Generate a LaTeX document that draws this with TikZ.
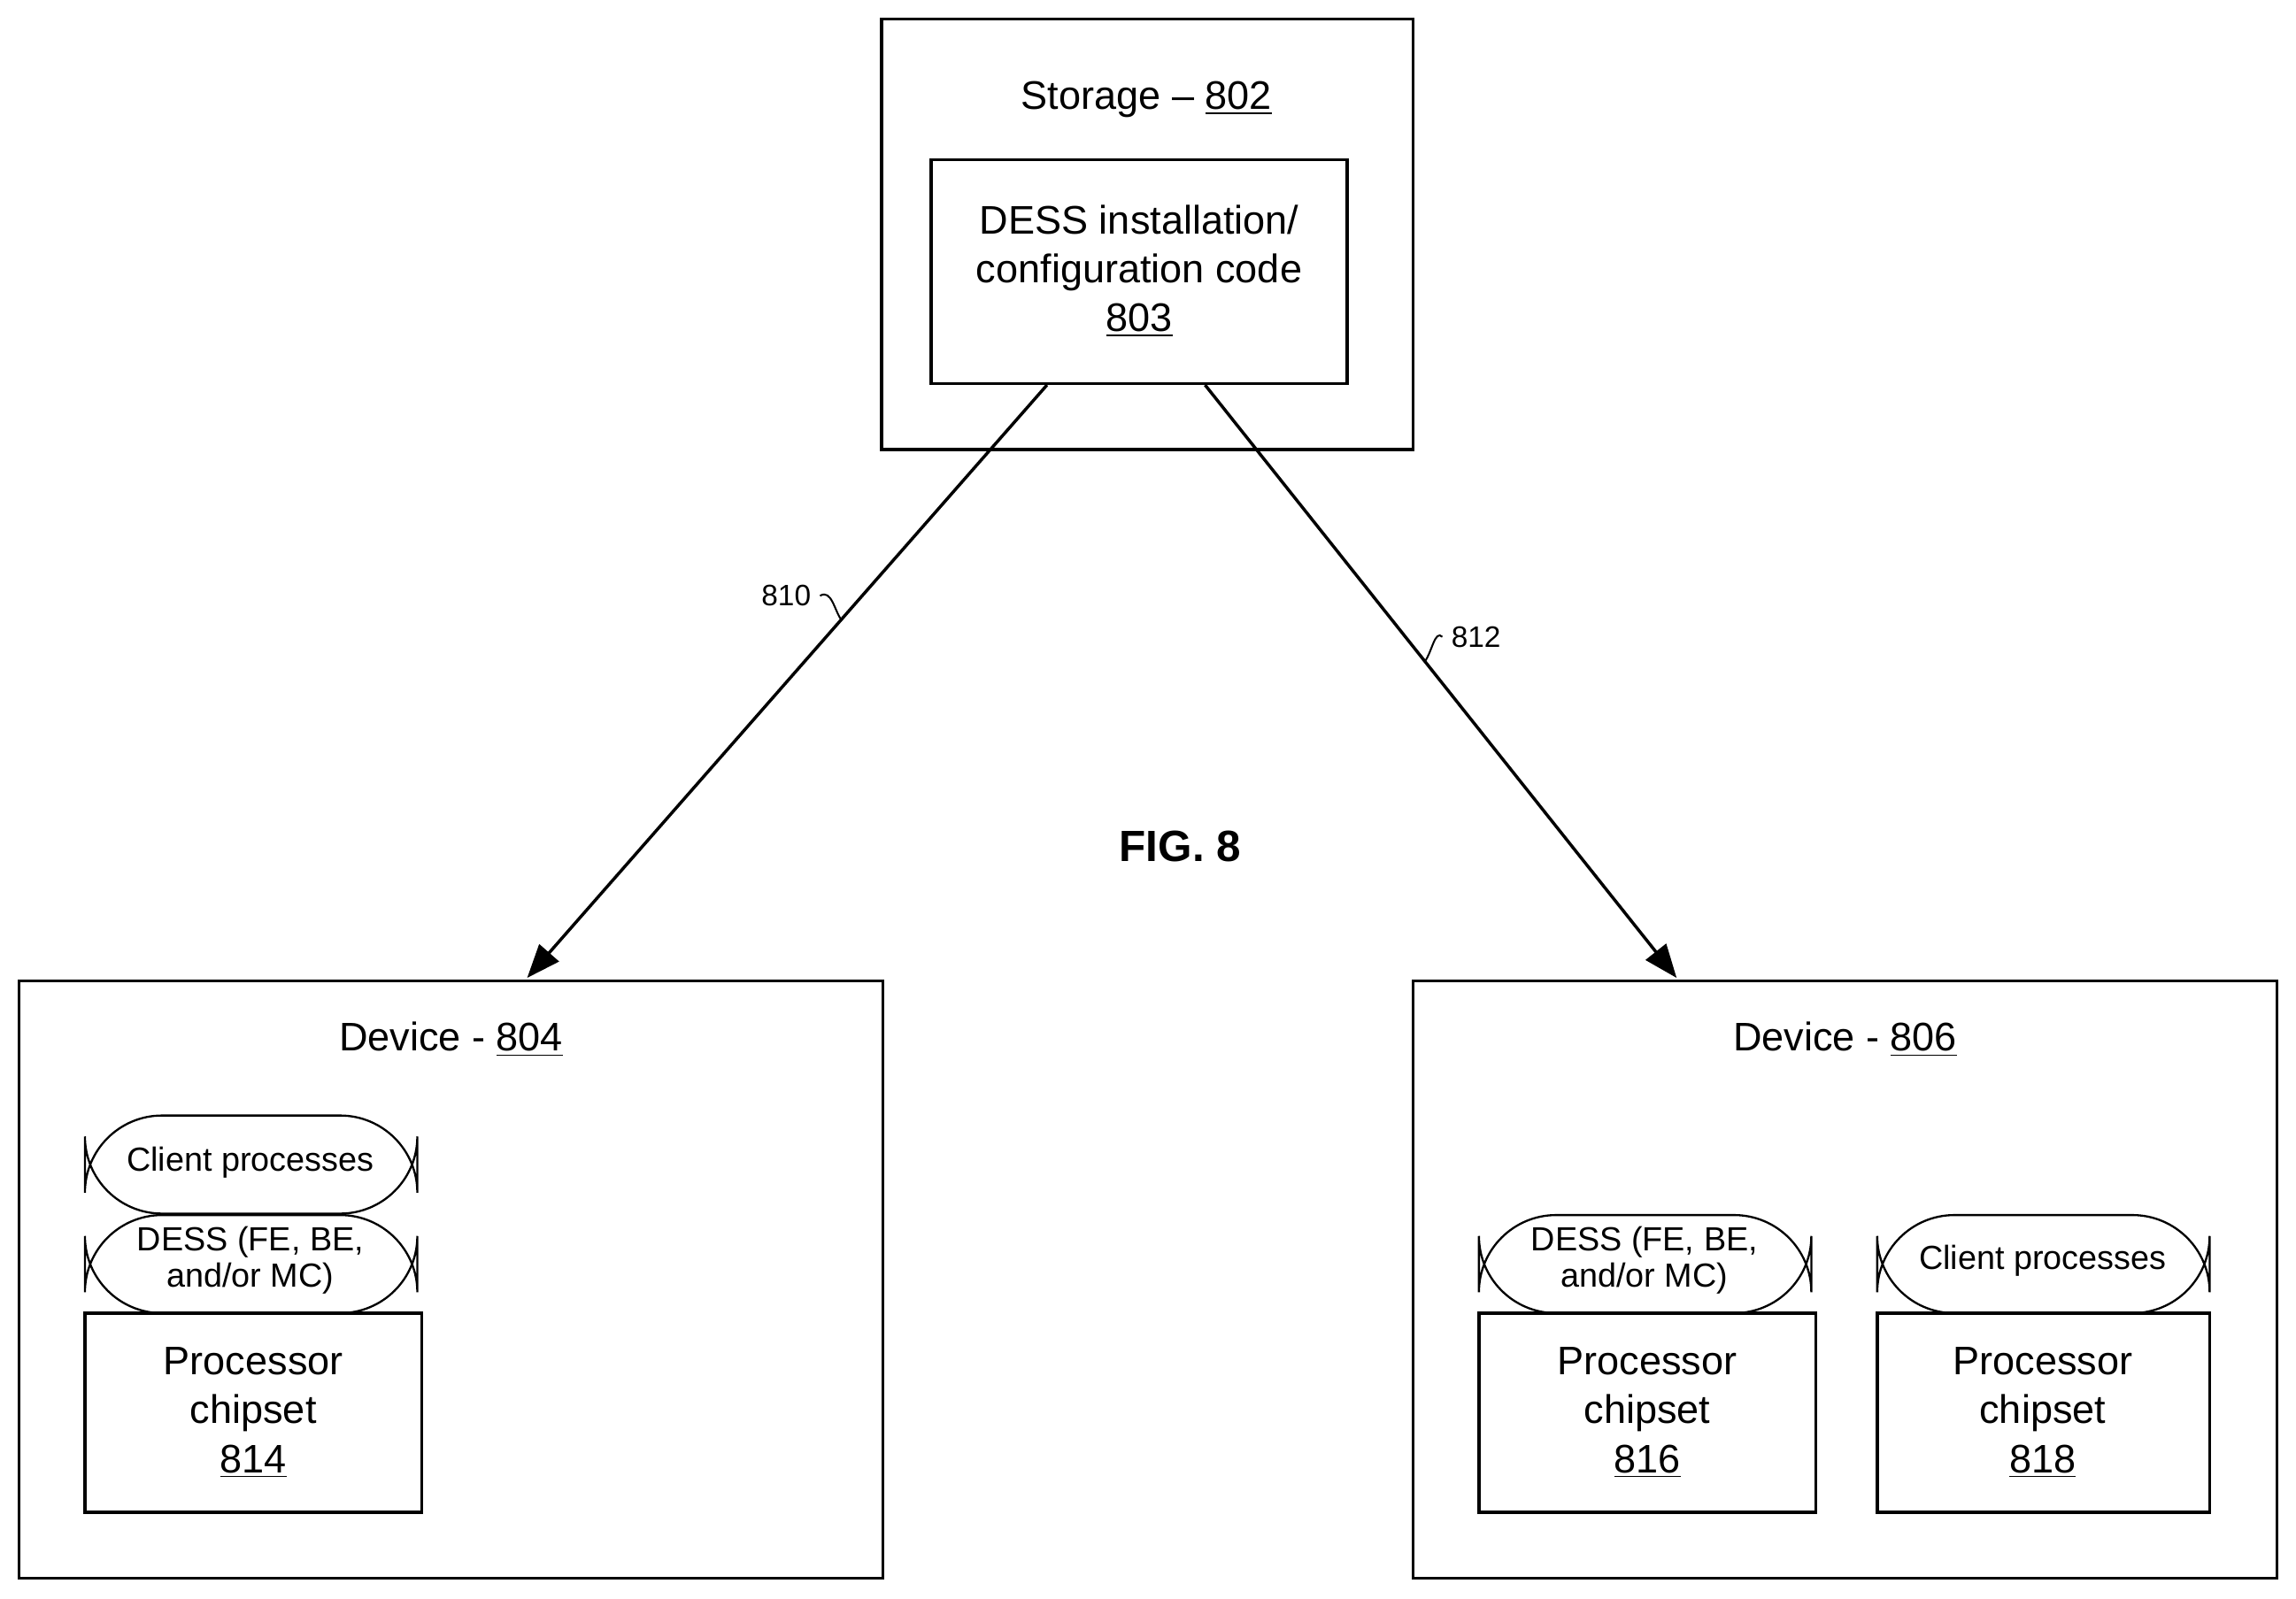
\documentclass[tikz,border=0pt]{standalone}
\usepackage{fontspec}
\setmainfont{Liberation Sans}
\usetikzlibrary{arrows.meta}
\begin{document}
\begin{tikzpicture}[x=0.02cm,y=-0.02cm,
  box/.style={draw,line width=1.2pt},
  pill/.style={draw,line width=0.8pt,rounded corners=30pt},
  big/.style={font=\fontsize{15.5}{19}\selectfont,align=center},
  sm/.style={font=\fontsize{13}{14}\selectfont,align=center},
  arr/.style={line width=1.2pt,-{Triangle[length=13pt,width=10pt]}},
  lbl/.style={font=\fontsize{11.5}{13}\selectfont}]
\useasboundingbox (0,0) rectangle (1568,1092);
% storage
\draw[box] (602,13) rectangle (965,307);
\node[big] (st) at (783,68) {Storage -- \underline{802}};
\draw[box] (636,109) rectangle (920,262);
\node[big] (code) at (778,185) {DESS installation/\\configuration code\\\underline{803}};
\coordinate (a1) at (715,263); \coordinate (a2) at (823,263);
% devices
\draw[box] (13,670) rectangle (603,1078);
\node[big] (d804) at (308,710) {Device - \underline{804}};
\draw[box] (965,670) rectangle (1555,1078);
\node[big] (d806) at (1260,710) {Device - \underline{806}};
\coordinate (t1) at (360,668); \coordinate (t2) at (1145,668);
\draw[arr] (a1) -- (t1);
\draw[arr] (a2) -- (t2);
% labels
\node[lbl,anchor=east] (l810) at (560,407) {810};
\draw[line width=0.7pt] (l810.east) .. controls (568,402) and (570,418) .. (575,424);
\node[lbl,anchor=west] (l812) at (985,435) {812};
\draw[line width=0.7pt] (l812.west) .. controls (980,430) and (978,445) .. (973,452);
\node[font=\bfseries\fontsize{17}{20}\selectfont] (fig) at (806,578) {FIG. 8};
% device 804 contents
\draw[pill] (58,762) rectangle (285,829);
\node[sm] (cp1) at (171,794) {Client processes};
\draw[pill] (58,830) rectangle (285,897);
\node[sm] (ds1) at (171,861) {DESS (FE, BE,\\and/or MC)};
\draw[box] (58,897) rectangle (288,1033);
\node[big] (p814) at (173,965) {Processor\\chipset\\\underline{814}};
% device 806 contents
\draw[pill] (1010,830) rectangle (1237,897);
\node[sm] (ds2) at (1123,861) {DESS (FE, BE,\\and/or MC)};
\draw[box] (1010,897) rectangle (1240,1033);
\node[big] (p816) at (1125,965) {Processor\\chipset\\\underline{816}};
\draw[pill] (1282,830) rectangle (1509,897);
\node[sm] (cp2) at (1395,861) {Client processes};
\draw[box] (1282,897) rectangle (1509,1033);
\node[big] (p818) at (1395,965) {Processor\\chipset\\\underline{818}};
\end{tikzpicture}
\end{document}
